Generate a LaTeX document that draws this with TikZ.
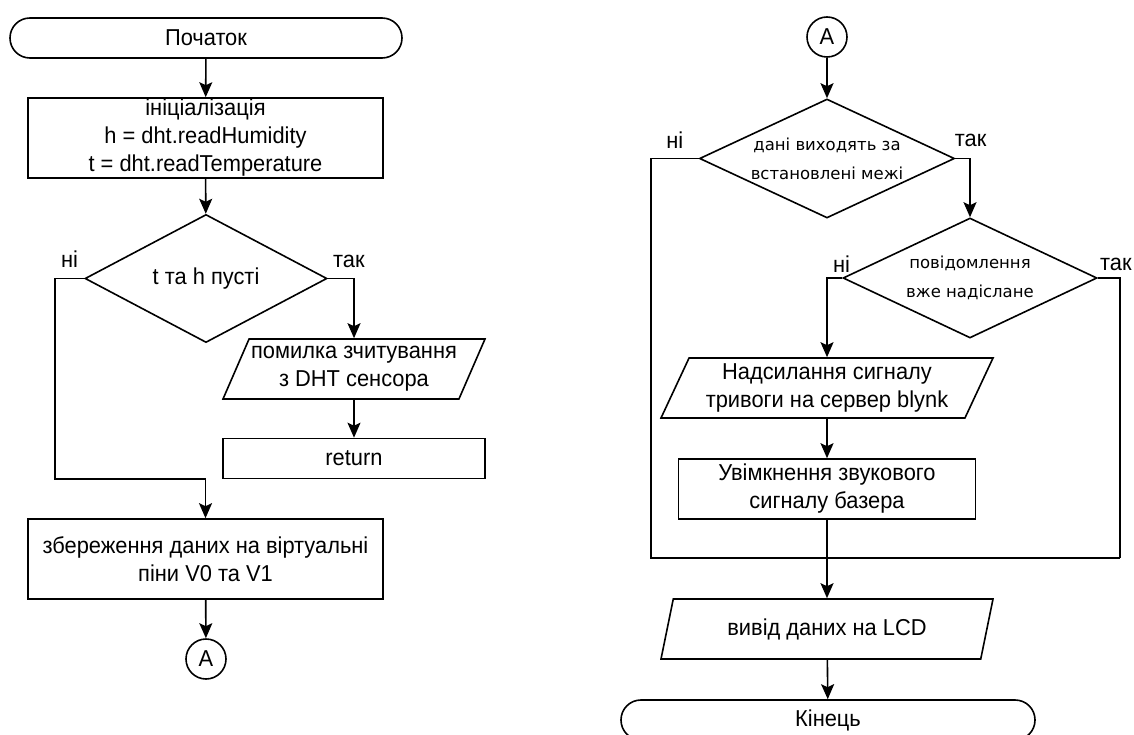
\documentclass[tikz,border=0pt]{standalone}
\usepackage{fontspec}
\setmainfont{Liberation Sans}[FakeStretch = 0.95]
\newfontfamily\dejavu{DejaVu Sans}
\usetikzlibrary{shapes.geometric, arrows.meta}

\begin{document}
\begin{tikzpicture}[x = 1pt, y = -1pt,
            every node/.style = {font = {\fontsize{23}{28}\selectfont}, text = black, align = center},
            plainline/.style = {draw = black, line width = 1.6pt},
            arrowline/.style = {plainline, -{Stealth[length = 15pt, width = 13pt, inset = 3pt]}},
            term/.style = {plainline, rectangle, rounded corners = 19.9pt, minimum height = 40pt},
            proc/.style = {plainline, rectangle, inner sep = 0pt},
            decide/.style = {plainline, diamond, inner sep = 0pt},
            io/.style = {plainline, trapezium, trapezium left angle = 60, trapezium right angle = 120,
                trapezium stretches body, minimum height = 60pt, inner sep = 0pt},
            conn/.style = {plainline, circle, minimum size = 40pt, inner sep = 0pt},
            ans/.style = {inner sep = 0pt},
            small/.style = {font = {\dejavu\fontsize{16.5}{29}\selectfont}}]
            \useasboundingbox (0, 0) rectangle (1134, 735);

            % left part
            \node[term, minimum width = 392] (start) at (206, 38) {Початок};
            \node[proc, minimum width = 355, minimum height = 80] (init) at (205.5, 138) {ініціалізація\\h = dht.readHumidity\\t = dht.readTemperature};
            \node[decide, minimum width = 242, minimum height = 119] (empty) at (206, 278.5) {t та h пусті};
            \node[io, minimum width = 262] (err) at (354, 369) {помилка зчитування\\з DHT сенсора};
            \node[proc, minimum width = 262, minimum height = 40] (ret) at (354, 458.5) {return};
            \node[proc, minimum width = 355, minimum height = 80] (save) at (205.5, 559) {збереження даних на віртуальні\\піни V0 та V1};
            \node[conn] (outA) at (206, 659) {A};
            \coordinate (leftbend) at (55, 479);

            % right part
            \node[conn] (inA) at (827, 37) {A};
            \node[decide, minimum width = 255, minimum height = 119,
                label = {[small]center:{дані виходять за\\встановлені межі}}] (range) at (827, 158.5) {};
            \node[decide, minimum width = 254, minimum height = 120,
                label = {[small]center:{повідомлення\\вже надіслане}}] (sent) at (970, 278) {};
            \node[io, minimum width = 332] (alarm) at (827, 388) {Надсилання сигналу\\тривоги на сервер blynk};
            \node[proc, minimum width = 297, minimum height = 60] (buzz) at (827, 489) {Увімкнення звукового\\сигналу базера};
            \node[io, minimum width = 332] (lcd) at (827, 629) {вивід даних на LCD};
            \node[term, minimum width = 414] (stop) at (828, 720) {Кінець};
            \coordinate (loopl) at (651, 558);
            \coordinate (loopr) at (1120, 558);

            \draw[arrowline] (start) -- (init);
            \draw[arrowline] (init) -- (empty);
            \draw[arrowline] (empty.west) -| node[ans, pos = 0.25, above = 10pt] {ні} (leftbend) -| (save.north);
            \draw[arrowline] (empty.east) -| node[ans, pos = 0.25, above = 10pt, xshift = 8pt] {так} (err.north);
            \draw[arrowline] (err) -- (ret);
            \draw[arrowline] (save) -- (outA);

            \draw[arrowline] (inA) -- (range);
            \draw[plainline] (range.west) -| node[ans, pos = 0.25, above = 9pt] {ні} (loopl) -- (loopr);
            \draw[arrowline] (range.east) -| node[ans, pos = 0.25, above = 11pt, xshift = 8pt] {так} (sent.north);
            \draw[arrowline] (sent.west) -| node[ans, pos = 0.25, above = 5pt, xshift = 7pt] {ні} (alarm.north);
            \draw[plainline] (sent.east) -| node[ans, pos = 0.25, above = 6pt, xshift = 7pt] {так} (loopr);
            \draw[arrowline] (alarm) -- (buzz);
            \draw[arrowline] (buzz) -- (lcd);
            \draw[arrowline] (lcd) -- (stop);
        \end{tikzpicture}
\end{document}
